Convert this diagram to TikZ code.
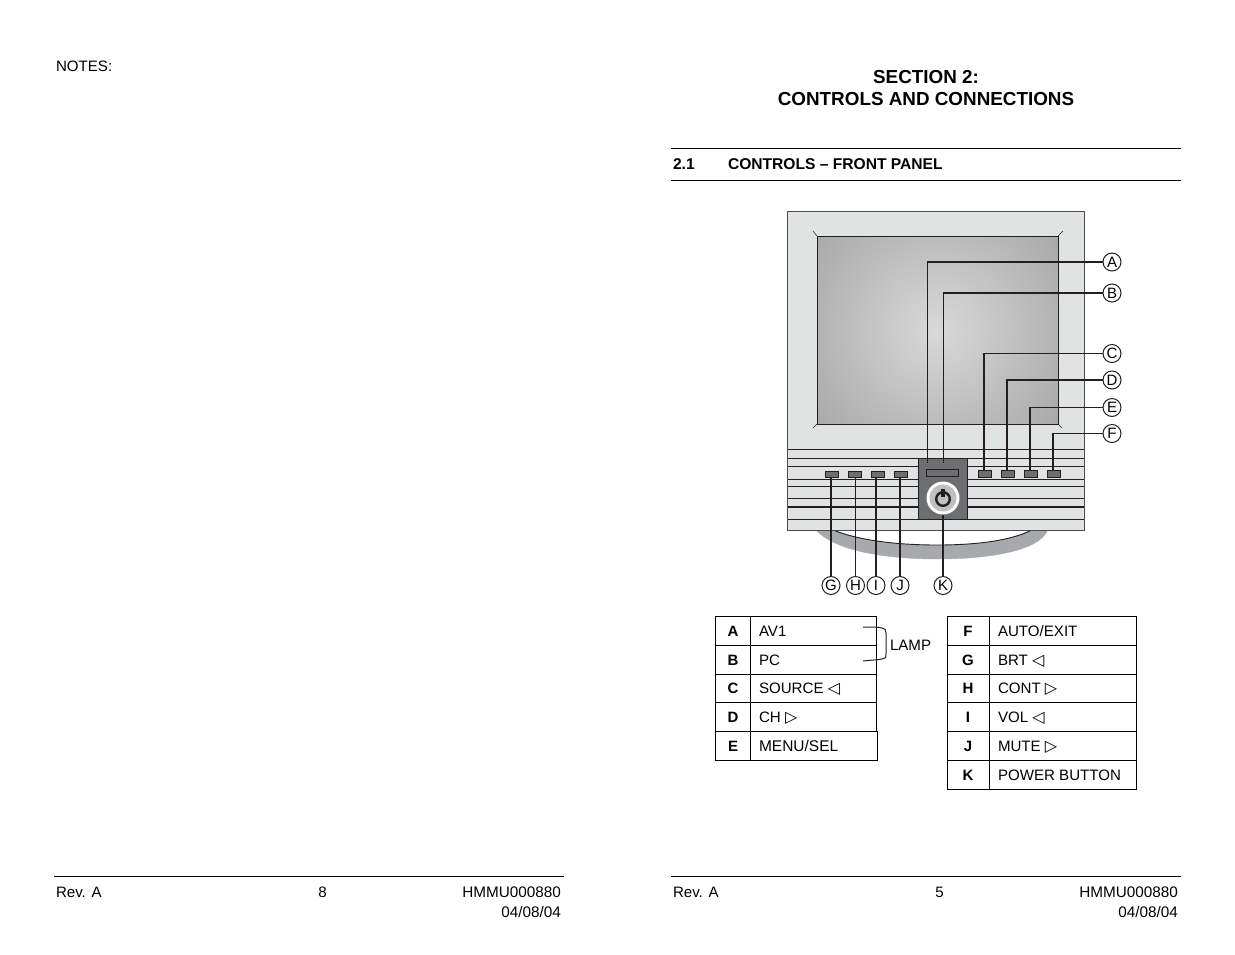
\documentclass[tikz,border=0pt]{standalone}
\usepackage{fontspec}
\setmainfont{Liberation Sans}
\newfontfamily\symfont{DejaVu Sans}
\newcommand{\lft}{{\symfont\fontsize{16}{18}\selectfont ◁}}
\newcommand{\rgt}{{\symfont\fontsize{16}{18}\selectfont ▷}}
\definecolor{bezel}{HTML}{E1E3E2}
\definecolor{panelgrey}{HTML}{6D6E71}
\definecolor{standgrey}{HTML}{A7A9AC}
\definecolor{ink}{HTML}{231F20}
\tikzset{
  txt/.style={inner sep=0pt,outer sep=0pt,anchor=base west,font=\fontsize{15.1}{18}\selectfont,text=black},
  txtr/.style={txt,anchor=base east},
  txtc/.style={txt,anchor=base},
  foot/.style={txtr,font=\fontsize{15.3}{18}\selectfont},
  key/.style={txtc,font=\fontsize{15}{18}\selectfont\bfseries},
  head/.style={txtc,font=\fontsize{18.85}{22}\selectfont\bfseries},
  subhead/.style={txt,font=\fontsize{15.6}{18}\selectfont\bfseries},
  callout/.style={circle,draw=ink,line width=1pt,minimum size=18pt,inner sep=0pt,font=\fontsize{15}{16}\selectfont,fill=white},
  lead/.style={draw=ink,line width=1.3pt},
  btn/.style={rectangle,draw=ink,line width=.8pt,fill=panelgrey,inner sep=0pt,minimum height=6.5pt},
  rulel/.style={draw=black,line width=.8pt},
  grid/.style={draw=black,line width=.9pt},
  slat/.style={draw=ink,line width=.9pt},
}
\begin{document}
\begin{tikzpicture}[x=1pt,y=-1pt]
\useasboundingbox (0,0) rectangle (1235,954);
\fill[white] (0,0) rectangle (1235,954);
% page texts
\node[txt] (notes) at (56,71) {NOTES:};
\node[head] (h1) at (926,83) {SECTION 2:};
\node[head] (h2) at (926,105) {CONTROLS AND CONNECTIONS};
\draw[rulel] (671,148.6) -- (1181,148.6);
\draw[rulel] (671,180.6) -- (1181,180.6);
\node[subhead] (s1) at (673,169) {2.1};
\node[subhead] (s2) at (728,169) {CONTROLS – FRONT PANEL};
% footers
\draw[rulel] (54,876.6) -- (564,876.6);
\draw[rulel] (671,876.6) -- (1181,876.6);
\node[txt] (fa) at (56,897) {Rev. A};
\node[txtc] (fb) at (322.5,897) {8};
\node[foot] (fc) at (561,897) {HMMU000880};
\node[foot] (fd) at (561,917) {04/08/04};
\node[txt] (ga) at (673,897) {Rev. A};
\node[txtc] (gb) at (939.5,897) {5};
\node[foot] (gc) at (1178,897) {HMMU000880};
\node[foot] (gd) at (1178,917) {04/08/04};
% stand
\fill[standgrey,draw=standgrey] (815,529) .. controls (835,552) and (890,559) .. (937,559) .. controls (985,559) and (1040,552) .. (1048,529) -- cycle;
\fill[white] (833,529) .. controls (860,541) and (900,545) .. (937,545) .. controls (975,545) and (1010,541) .. (1032,529) -- cycle;
\draw[ink,line width=.9pt] (833,530) .. controls (860,541) and (900,545) .. (937,545) .. controls (975,545) and (1010,541) .. (1032,530);
% monitor body
\fill[bezel] (787.5,211) rectangle (1084,530);
% screen
\begin{scope}
\clip (817,236) rectangle (1058,424);
\shade[inner color=black!15,outer color=black!53] (937,330) circle (310);
\end{scope}
\draw[ink,line width=1pt] (817,236) rectangle (1058,424);
\draw[ink,line width=.5pt] (817,236) -- (813,231) (1058,236) -- (1063,231) (817,424) -- (813,428) (1058,424) -- (1062,428);
% slats
\draw[slat] (788,449) -- (1084,449);
\foreach \yy in {458,466,479,486,498,519}{
  \draw[slat] (788,\yy) -- (918,\yy) (967,\yy) -- (1084,\yy);
}
\draw[ink,line width=1.5pt] (788,507) -- (918,507) (967,507) -- (1084,507);
\draw[draw=black!70,line width=1pt] (787.5,211) rectangle (1084,530);
% control panel
\node[rectangle,draw=ink,line width=.9pt,fill=panelgrey,inner sep=0pt,minimum width=49pt,minimum height=61pt] (panel) at (942.5,488.5) {};
\node[btn,minimum width=32pt,minimum height=7pt] (slot) at (942,472.5) {};
\node[circle,fill=white,inner sep=0pt,minimum size=33pt] (pwr) at (943,498) {};
\node[circle,fill=black!25,inner sep=0pt,minimum size=27pt] (pwrin) at (943,498) {};
\draw[ink,line width=2.4pt] (943,499) circle (6.8);
\draw[ink,line width=3.4pt] (943,489) -- (943,497);
% buttons
\node[btn,minimum width=13pt] (bG) at (832,474.5) {};
\node[btn,minimum width=13pt] (bH) at (854.5,474.5) {};
\node[btn,minimum width=13pt] (bI) at (877.5,474.5) {};
\node[btn,minimum width=13pt] (bJ) at (900.5,474.5) {};
\node[btn,minimum width=13pt] (bC) at (984.5,474) {};
\node[btn,minimum width=13pt] (bD) at (1007.5,474) {};
\node[btn,minimum width=13pt] (bE) at (1030.5,474) {};
\node[btn,minimum width=13pt] (bF) at (1053.5,474) {};
% callouts
\node[callout] (A) at (1112,262) {A};
\node[callout] (B) at (1112,293) {B};
\node[callout] (C) at (1112,353.5) {C};
\node[callout] (D) at (1112,380) {D};
\node[callout] (E) at (1112,407.5) {E};
\node[callout] (F) at (1112,433.5) {F};
\node[callout] (G) at (831,585.5) {G};
\node[callout] (H) at (855.5,585.5) {H};
\node[callout] (I) at (876,585.5) {I};
\node[callout] (J) at (900,585.5) {J};
\node[callout] (K) at (943,585.5) {K};
\coordinate (ledA) at (927.5,463);
\coordinate (ledB) at (943.5,463);
\draw[lead] (A.west) -| (ledA);
\draw[lead] (B.west) -| (ledB);
\draw[lead] (C.west) -| (984,471);
\draw[lead] (D.west) -| (1007,471);
\draw[lead] (E.west) -| (1030,471);
\draw[lead] (F.west) -| (1053,471);
\draw[lead,line width=1.8pt] (G.north) -- (831,478);
\draw[lead] (H.north) -- (855.5,478);
\draw[lead] (I.north) -- (876,478);
\draw[lead] (J.north) -- (900,478);
\draw[lead] (K.north) -- (pwr.south);
% left table
\draw[grid] (715.6,616) rectangle (876,731);
\draw[grid] (715.6,731) rectangle (877,760);
\draw[grid] (750,616) -- (750,760);
\foreach \yy in {645,674,702}{\draw[grid] (715.6,\yy) -- (876,\yy);}
\node[key] (la) at (733,636) {A};
\node[key] (lb) at (733,665) {B};
\node[key] (lc) at (733,693) {C};
\node[key] (ld) at (733,722) {D};
\node[key] (le) at (733,751) {E};
\node[txt] (lta) at (759,636) {AV1};
\node[txt] (ltb) at (759,665) {PC};
\node[txt] (ltc) at (759,693) {SOURCE \lft};
\node[txt] (ltd) at (759,722) {CH \rgt};
\node[txt,font=\fontsize{15.5}{18}\selectfont] (lte) at (759,751) {MENU/SEL};
\node[txt] (lamp) at (890,650) {LAMP};
\draw[ink,line width=1pt] (863,627) .. controls (872,627) and (879,627) .. (882,628) .. controls (885,628) and (886,630) .. (886,633) -- (886,654) .. controls (886,658) and (885,659) .. (882,659) .. controls (878,660) and (870,660) .. (863,661);
% right table
\draw[grid] (947.5,616) rectangle (1136.5,789);
\draw[grid] (989,616) -- (989,789);
\foreach \yy in {645,674,702,731,760}{\draw[grid] (947.5,\yy) -- (1136.5,\yy);}
\node[key] (ra) at (968,636) {F};
\node[key] (rb) at (968,665) {G};
\node[key] (rc) at (968,693) {H};
\node[key] (rd) at (968,722) {I};
\node[key] (re) at (968,751) {J};
\node[key] (rf) at (968,780) {K};
\node[txt] (rta) at (998,636) {AUTO/EXIT};
\node[txt] (rtb) at (998,665) {BRT \lft};
\node[txt] (rtc) at (998,693) {CONT \rgt};
\node[txt] (rtd) at (998,722) {VOL \lft};
\node[txt] (rte) at (998,751) {MUTE \rgt};
\node[txt] (rtf) at (998,780) {POWER BUTTON};
\end{tikzpicture}
\end{document}
